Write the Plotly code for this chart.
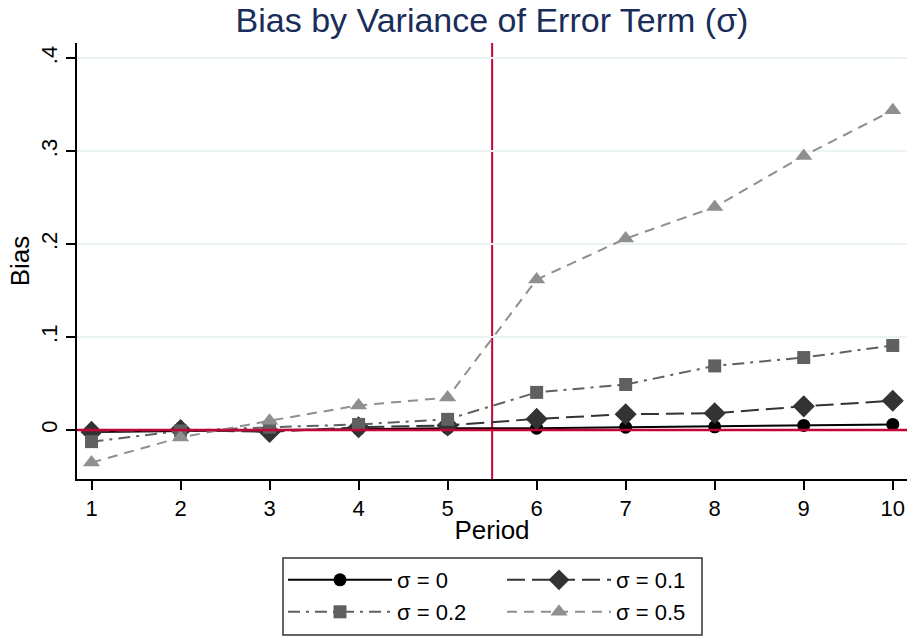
import plotly.graph_objects as go

periods = [1, 2, 3, 4, 5, 6, 7, 8, 9, 10]
bias_s0 = [-0.002, -0.001, 0.000, 0.001, 0.002, 0.002, 0.003, 0.0035, 0.005, 0.006]
bias_s01 = [-0.002, 0.000, -0.002, 0.003, 0.005, 0.012, 0.017, 0.018, 0.0255, 0.0315]
bias_s02 = [-0.0125, -0.001, 0.003, 0.006, 0.0115, 0.0405, 0.049, 0.069, 0.078, 0.091]
bias_s05 = [-0.035, -0.008, 0.010, 0.0265, 0.035, 0.162, 0.206, 0.240, 0.295, 0.344]
series_names = ["σ = 0", "σ = 0.1", "σ = 0.2", "σ = 0.5"]
y_tickvals = [0, 0.1, 0.2, 0.3, 0.4]
y_ticktext = ["0", ".1", ".2", ".3", ".4"]
x_tickvals = periods
cutoff_period = 5.5

FONT = "Liberation Sans, Arial, Helvetica, sans-serif"
RED = "#C10534"

fig = go.Figure()

styles = [
    dict(color="#000000", dash="solid", symbol="circle", size=13, legend="legend"),
    dict(color="#333333", dash="18px,7px", symbol="diamond", size=17, legend="legend"),
    dict(color="#606060", dash="12px,6px,3px,6px", symbol="square", size=13, legend="legend2"),
    dict(color="#8f8f8f", dash="10px,7px", symbol="triangle-up", size=15, legend="legend2"),
]
all_series = [bias_s0, bias_s01, bias_s02, bias_s05]

# reference lines
fig.add_shape(type="line", xref="paper", yref="y", x0=0, x1=1, y0=0, y1=0,
              line=dict(color=RED, width=2.5), layer="above")
fig.add_shape(type="line", xref="x", yref="paper", x0=cutoff_period, x1=cutoff_period, y0=0, y1=1,
              line=dict(color=RED, width=2), layer="between")

for name, ys, st in zip(series_names, all_series, styles):
    fig.add_trace(go.Scatter(
        x=periods, y=ys, name=name, mode="lines+markers",
        line=dict(color=st["color"], width=2, dash=st["dash"]),
        marker=dict(color=st["color"], symbol=st["symbol"], size=st["size"], line=dict(width=0)),
        legend=st["legend"],
    ))

# legend box
fig.add_shape(type="rect", xref="paper", yref="paper",
              x0=(283 - 77) / 830, x1=(702 - 77) / 830,
              y0=(479 - 635) / 436, y1=(479 - 558) / 436,
              line=dict(color="#333333", width=1.5), fillcolor="rgba(0,0,0,0)")

legend_common = dict(orientation="h", xanchor="left", yanchor="middle",
                     font=dict(family=FONT, size=22, color="#000000"),
                     bgcolor="rgba(0,0,0,0)", borderwidth=0,
                     entrywidth=100, itemwidth=104)

fig.update_layout(
    width=907, height=637,
    margin=dict(l=77, r=0, t=43, b=158),
    paper_bgcolor="white", plot_bgcolor="white",
    font=dict(family=FONT, size=22, color="#000000"),
    title=dict(text="Bias by Variance of Error Term (σ)", x=(492) / 907, xanchor="center",
               y=1 - 20 / 637, yanchor="middle",
               font=dict(family=FONT, size=34, color="#1a2d5a")),
    xaxis=dict(range=[0.837, 10.16], tickvals=x_tickvals, ticks="outside", ticklen=9,
               tickwidth=1.5, tickcolor="#000", showline=True, linecolor="#000", linewidth=1.5,
               showgrid=False, zeroline=False, title=dict(text="Period", standoff=1),
               tickfont=dict(size=22)),
    yaxis=dict(range=[-0.0527, 0.4165], tickvals=y_tickvals, ticktext=y_ticktext,
               ticks="outside", ticklen=9, tickwidth=1.5, tickcolor="#000", tickangle=-90,
               showline=True, linecolor="#000", linewidth=1.5, showgrid=True,
               gridcolor="#EAF2F3", gridwidth=1.5, zeroline=False,
               title=dict(text="Bias", standoff=0), tickfont=dict(size=22)),
    legend=dict(x=(283 - 77) / 830, y=(479 - 580) / 436, **legend_common),
    legend2=dict(x=(283 - 77) / 830, y=(479 - 612) / 436, **legend_common),
)

fig.write_html("out.html")
